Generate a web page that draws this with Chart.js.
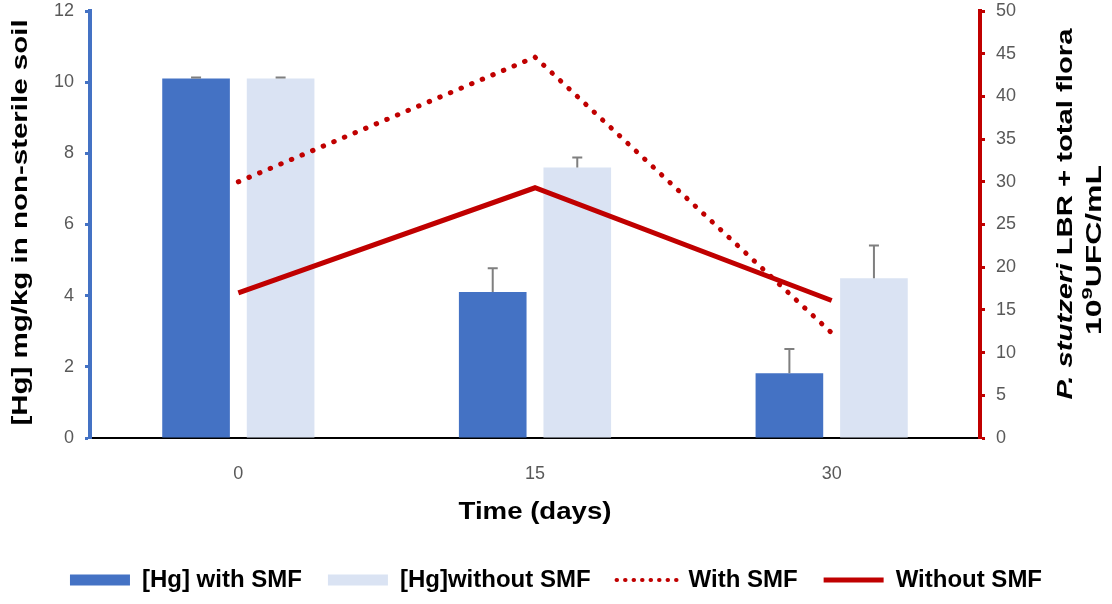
<!DOCTYPE html>
<html>
<head>
<meta charset="utf-8">
<script src="https://cdn.jsdelivr.net/npm/chart.js@4"></script>
<style>
  body { margin: 0; background: #fff; }
  #wrap { width: 1112px; height: 604px; position: relative; }
</style>
</head>
<body>
<div id="wrap"><canvas id="chart"></canvas></div>
<script>
const days = ['0', '15', '30'];
const hgWithSMF = [10.1, 4.1, 1.82];
const hgWithSMFErr = [0.03, 0.67, 0.68];
const hgWithoutSMF = [10.1, 7.6, 4.49];
const hgWithoutSMFErr = [0.03, 0.28, 0.92];
const floraWithSMF = [30, 44.6, 12.3];
const floraWithoutSMF = [17, 29.3, 16.1];

const blue = '#4472c4';
const lightBlue = '#dae3f3';
const red = '#c00000';
const sans = '"Liberation Sans", Arial, sans-serif';

// error bars on the columns
const errorBars = {
    id: 'errorBars',
    afterDatasetsDraw(chart) {
        const ctx = chart.ctx;
        const y = chart.scales.y;
        [[0, hgWithSMFErr], [1, hgWithoutSMFErr]].forEach(([di, errs]) => {
            const meta = chart.getDatasetMeta(di);
            meta.data.forEach((bar, i) => {
                const v = chart.data.datasets[di].data[i];
                const top = y.getPixelForValue(v + errs[i]);
                ctx.save();
                ctx.strokeStyle = '#7f7f7f';
                ctx.lineWidth = 2;
                ctx.beginPath();
                ctx.moveTo(bar.x, bar.y);
                ctx.lineTo(bar.x, top);
                ctx.moveTo(bar.x - 5, top);
                ctx.lineTo(bar.x + 5, top);
                ctx.stroke();
                ctx.restore();
            });
        });
    }
};

// draws a run of [text, font, dy] pieces centred on (cx, cy), rotated and stretched
function drawPieces(ctx, pieces, cx, cy, angle, stretch) {
    ctx.save();
    ctx.translate(cx, cy);
    ctx.rotate(angle);
    ctx.scale(stretch, 1);
    ctx.fillStyle = '#000';
    ctx.textBaseline = 'middle';
    let w = 0;
    pieces.forEach(p => { ctx.font = p[1]; w += ctx.measureText(p[0]).width; });
    let x = -w / 2;
    pieces.forEach(p => {
        ctx.font = p[1];
        ctx.fillText(p[0], x, p[2] || 0);
        x += ctx.measureText(p[0]).width;
    });
    ctx.restore();
}

// axis titles (the picture has them stretched along the text)
const axisTitles = {
    id: 'axisTitles',
    afterDraw(chart) {
        const ctx = chart.ctx;
        const area = chart.chartArea;
        const bold = 'bold 22px ' + sans;
        const ital = 'italic bold 22px ' + sans;
        const sup = 'bold 15px ' + sans;
        const midY = (area.top + area.bottom) / 2;
        drawPieces(ctx, [['[Hg] mg/kg in non-sterile soil', bold]], 21, midY - 2, -Math.PI / 2, 1.34);
        drawPieces(ctx, [['P. stutzeri', ital], [' LBR + total flora', bold]], 1066, 214, -Math.PI / 2, 1.33);
        drawPieces(ctx, [['10', bold], ['9', sup, -7], ['UFC/mL', bold]], 1095, 250, -Math.PI / 2, 1.45);
        drawPieces(ctx, [['Time (days)', 'bold 24px ' + sans]], (area.left + area.right) / 2, 512, 0, 1.15);
    }
};

// keep the plot top close to the upper tick label
function fitVertical(width) {
    return s => { s.width = width; s.paddingTop = 11; s.paddingBottom = 0; };
}

new Chart(document.getElementById('chart'), {
    data: {
        labels: days,
        datasets: [
            { type: 'bar', label: '[Hg] with SMF', data: hgWithSMF, backgroundColor: blue, yAxisID: 'y', order: 2,
              categoryPercentage: 0.57, barPercentage: 0.8 },
            { type: 'bar', label: '[Hg]without SMF', data: hgWithoutSMF, backgroundColor: lightBlue, yAxisID: 'y', order: 2,
              categoryPercentage: 0.57, barPercentage: 0.8 },
            { type: 'line', label: 'With SMF', data: floraWithSMF, borderColor: red, borderWidth: 5,
              borderDash: [0.5, 11], borderCapStyle: 'round', pointRadius: 0, yAxisID: 'y1', order: 1 },
            { type: 'line', label: 'Without SMF', data: floraWithoutSMF, borderColor: red, borderWidth: 5,
              pointRadius: 0, yAxisID: 'y1', order: 1 }
        ]
    },
    options: {
        responsive: true,
        maintainAspectRatio: false,
        animation: false,
        layout: { padding: { top: 0, bottom: 2, left: 0, right: 0 } },
        plugins: {
            tooltip: { enabled: false },
            legend: {
                position: 'bottom',
                labels: {
                    usePointStyle: true,
                    pointStyleWidth: 60,
                    boxHeight: 11,
                    padding: 26,
                    color: '#000',
                    font: { family: sans, size: 24, weight: 'bold' },
                    generateLabels(chart) {
                        return [
                            { text: '[Hg] with SMF', pointStyle: 'rect', fillStyle: blue, strokeStyle: blue, lineWidth: 0, datasetIndex: 0 },
                            { text: '[Hg]without SMF', pointStyle: 'rect', fillStyle: lightBlue, strokeStyle: lightBlue, lineWidth: 0, datasetIndex: 1 },
                            { text: 'With SMF', pointStyle: 'line', fillStyle: red, strokeStyle: red, lineWidth: 4, lineDash: [0.5, 8], lineCap: 'round', datasetIndex: 2 },
                            { text: 'Without SMF', pointStyle: 'line', fillStyle: red, strokeStyle: red, lineWidth: 5, datasetIndex: 3 }
                        ];
                    }
                }
            }
        },
        scales: {
            x: {
                offset: true,
                grid: { display: false, drawTicks: false },
                border: { display: true, color: '#000', width: 2 },
                ticks: { color: '#595959', padding: 25, font: { family: sans, size: 18 } },
                afterFit(s) { s.height = 104; }
            },
            y: {
                position: 'left',
                min: 0, max: 12,
                ticks: { stepSize: 2, color: '#595959', padding: 11, font: { family: sans, size: 18 } },
                grid: { drawOnChartArea: false, drawTicks: true, tickLength: 5, tickColor: blue, tickWidth: 3 },
                border: { display: true, color: blue, width: 4 },
                afterFit: fitVertical(90)
            },
            y1: {
                position: 'right',
                min: 0, max: 50,
                ticks: { stepSize: 5, color: '#595959', padding: 11, font: { family: sans, size: 18 } },
                grid: { drawOnChartArea: false, drawTicks: true, tickLength: 5, tickColor: red, tickWidth: 3 },
                border: { display: true, color: red, width: 4 },
                afterFit: fitVertical(132)
            }
        }
    },
    plugins: [errorBars, axisTitles]
});
</script>
</body>
</html>
